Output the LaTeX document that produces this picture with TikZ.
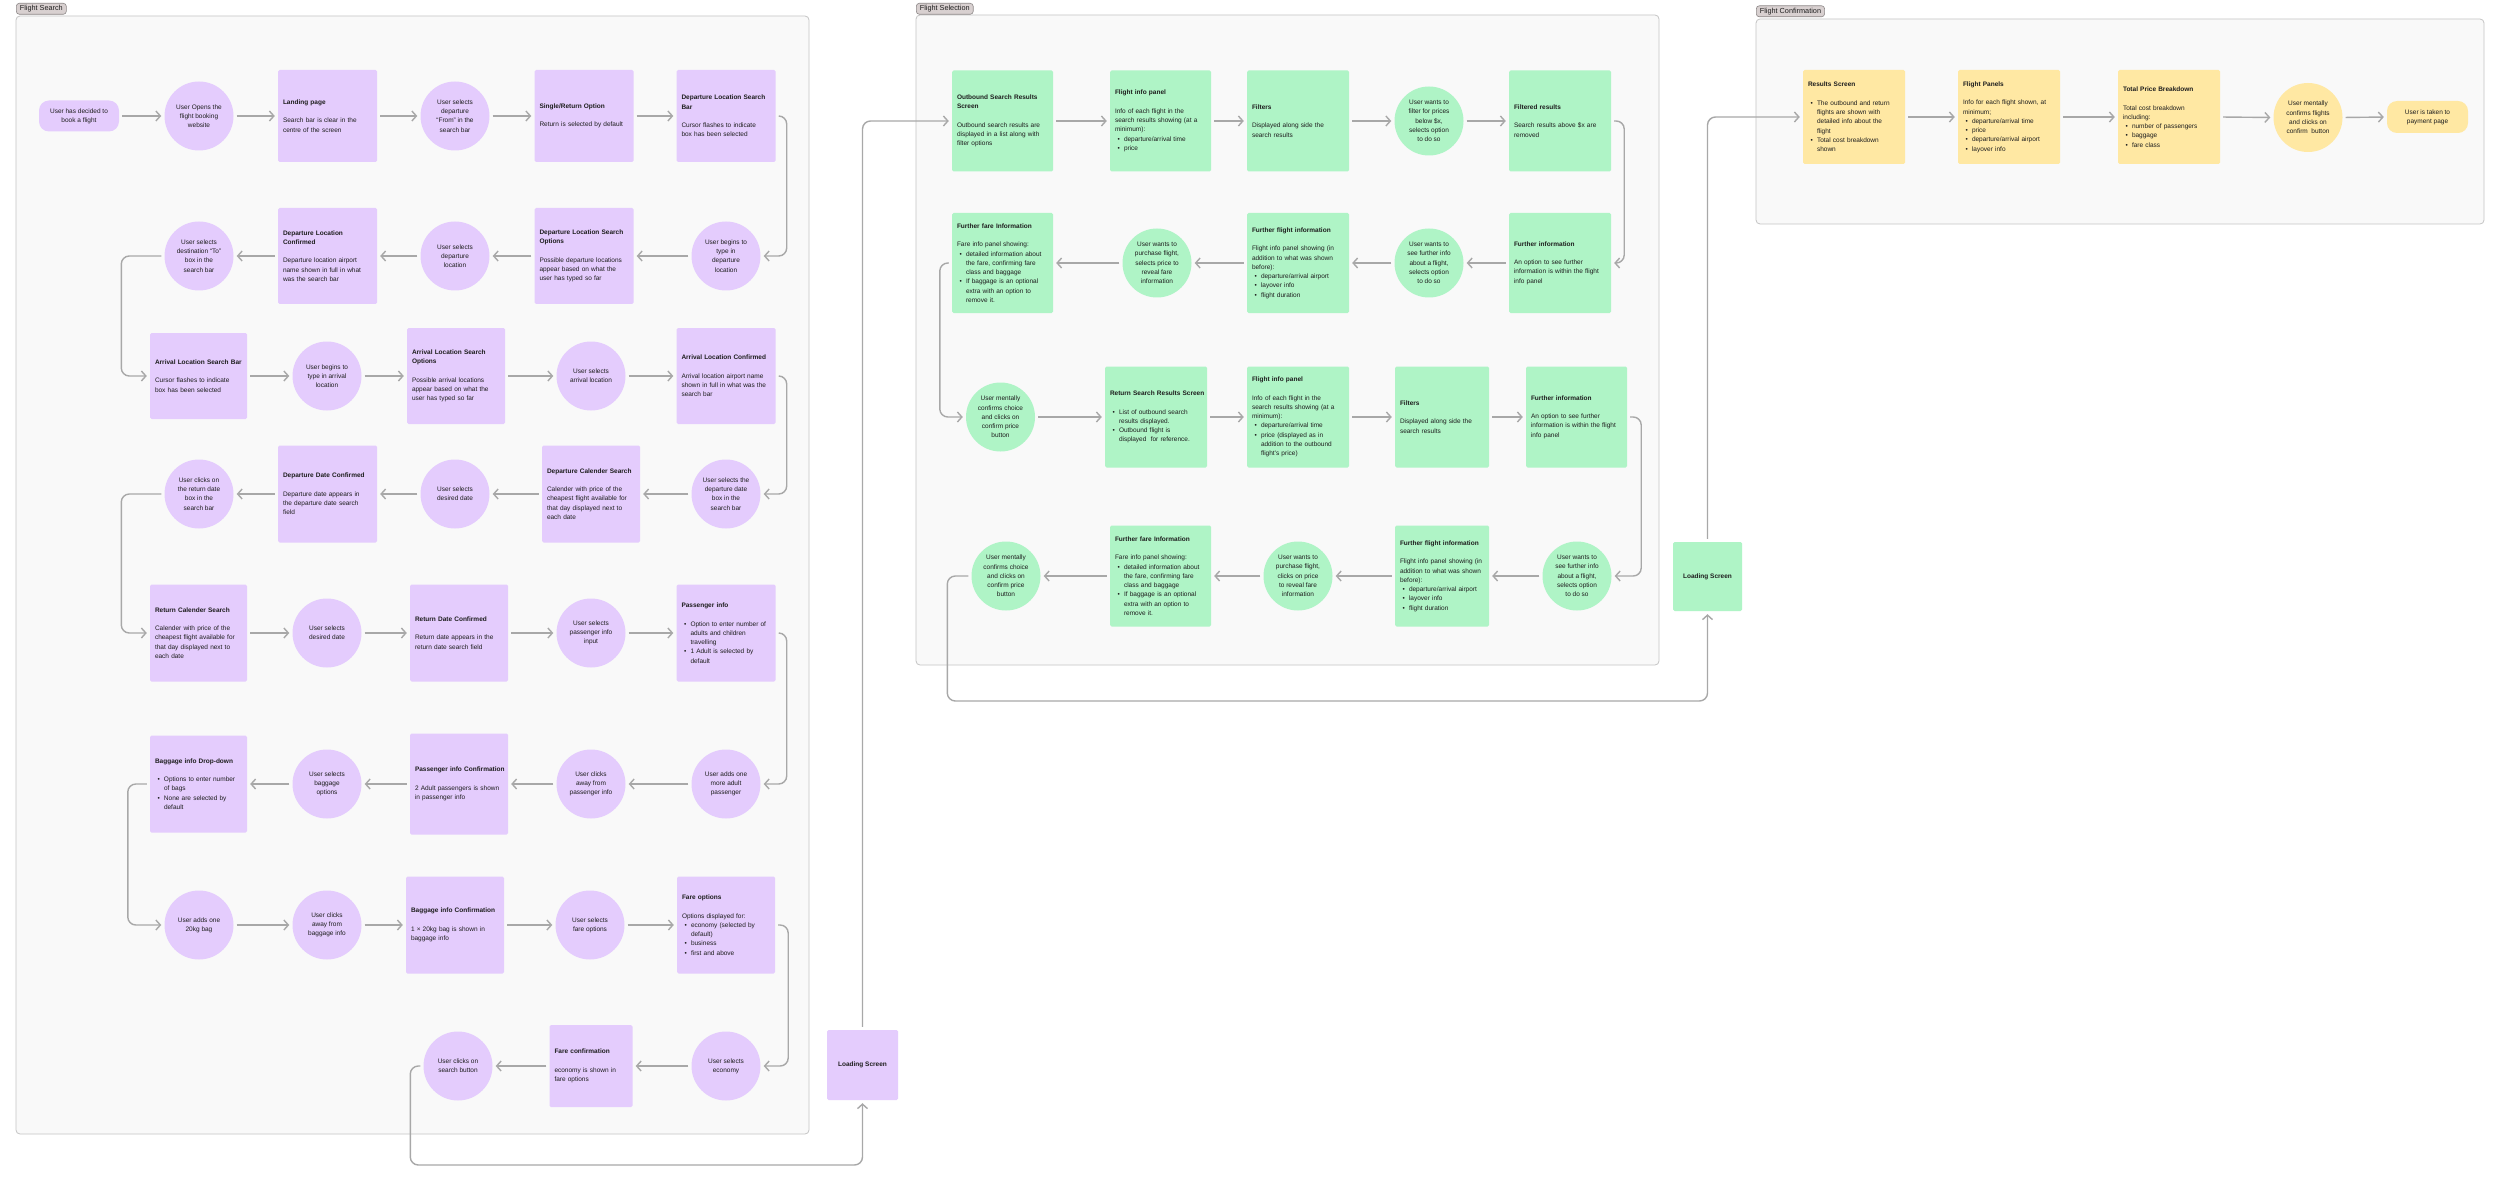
\documentclass[tikz,border=0pt]{standalone}
\usepackage{fontspec}
\setmainfont{Liberation Sans}
\usetikzlibrary{arrows.meta}
\definecolor{pu}{HTML}{E4CCFD}
\definecolor{gr}{HTML}{AFF4C6}
\definecolor{ye}{HTML}{FFE8A3}
\definecolor{fr}{HTML}{F9F9F9}
\definecolor{frb}{HTML}{C4C4C4}
\definecolor{ln}{HTML}{A8A8A8}
\definecolor{tx}{HTML}{1E1E1E}
\definecolor{tabf}{HTML}{D8D0D0}
\definecolor{tabb}{HTML}{8C8787}
\newcommand\myfs{\fontsize{6.5}{9.3}\selectfont}
\newcommand\bul[1]{\par\noindent\hangindent=9pt\hangafter=1\hspace*{2.5pt}\makebox[6.5pt][l]{\textbullet}#1\par}
\newcommand\ttl[1]{\mbox{\bfseries #1}}
\newcommand\gap{\par\vspace{9.3pt}\noindent}
\newcommand\nl{\newline}
\tikzset{
  bx/.style n args={3}{rectangle, rounded corners=1.5pt, fill=#1, text width=#2, minimum height=#3, inner xsep=5pt, inner ysep=0pt, align=left, font=\myfs, text=tx},
  ci/.style={circle, fill=#1, minimum size=69pt, inner sep=0pt, align=center, font=\myfs, text=tx},
  pl/.style={rectangle, rounded corners=10pt, fill=#1, minimum width=80pt, minimum height=31pt, inner sep=0pt, align=center, font=\myfs, text=tx},
  lb/.style={rectangle, rounded corners=1.5pt, fill=#1, minimum width=70pt, minimum height=70pt, inner sep=0pt, font=\myfs\bfseries, text=tx},
  cn/.style={draw=ln, line width=1.4pt, -{Straight Barb[length=4.5pt,width=10pt]}, shorten >=3pt, shorten <=3pt, rounded corners=8pt},
  frame/.style={fill=fr, draw=frb, line width=0.8pt, rounded corners=4pt},
  tabst/.style={rectangle, rounded corners=3pt, fill=tabf, draw=tabb, line width=0.6pt, minimum height=11pt, inner xsep=3.5pt, inner ysep=0pt, font=\fontsize{7.3}{8}\selectfont, text=tx, anchor=north west}
}
\begin{document}
\begin{tikzpicture}[x=1pt,y=-1pt]
\fill[white] (0,0) rectangle (2500,1182);
\useasboundingbox (0,0) rectangle (2500,1182);
% frames
\draw[frame] (16,16) rectangle (809,1134);
\draw[frame] (916,15) rectangle (1659,665);
\draw[frame] (1756,19) rectangle (2484,224);
\node[tabst] (t1) at (16,3) {Flight Search};
\node[tabst] (t2) at (916,3) {Flight Selection};
\node[tabst] (t3) at (1756,5.5) {Flight Confirmation};

% ---------- Flight Search ----------
\node[pl=pu] (s0) at (79,116) {User has decided to\\book a flight};
\node[ci=pu] (s1) at (199,116) {User Opens the\\flight booking\\website};
\node[bx={pu}{89pt}{92pt}] (s2) at (327.5,116) {\ttl{Landing page}\gap Search bar is clear in the\\centre of the screen};
\node[ci=pu] (s3) at (455,116) {User selects\\departure\\“From” in the\\search bar};
\node[bx={pu}{89pt}{92pt}] (s4) at (584,116) {\ttl{Single/Return Option}\gap Return is selected by default};
\node[bx={pu}{89pt}{92pt}] (s5) at (726,116) {\ttl{Departure Location Search}\\\ttl{Bar}\gap Cursor flashes to indicate\\box has been selected};

\node[ci=pu] (s6) at (726,256) {User begins to\\type in\\departure\\location};
\node[bx={pu}{89pt}{96pt}] (s7) at (584,256) {\ttl{Departure Location Search}\\\ttl{Options}\gap Possible departure locations\\appear based on what the\\user has typed so far};
\node[ci=pu] (s8) at (455,256) {User selects\\departure\\location};
\node[bx={pu}{89pt}{96pt}] (s9) at (327.5,256) {\ttl{Departure Location}\\\ttl{Confirmed}\gap Departure location airport\\name shown in full in what\\was the search bar};
\node[ci=pu] (s10) at (199,256) {User selects\\destination “To”\\box in the\\search bar};

\node[bx={pu}{87pt}{86pt}] (s11) at (198.5,376) {\ttl{Arrival Location Search Bar}\gap Cursor flashes to indicate\\box has been selected};
\node[ci=pu] (s12) at (327,376) {User begins to\\type in arrival\\location};
\node[bx={pu}{88pt}{96pt}] (s13) at (456,376) {\ttl{Arrival Location Search}\\\ttl{Options}\gap Possible arrival locations\\appear based on what the\\user has typed so far};
\node[ci=pu] (s14) at (591,376) {User selects\\arrival location};
\node[bx={pu}{89pt}{96pt}] (s15) at (726,376) {\ttl{Arrival Location Confirmed}\gap Arrival location airport name\\shown in full in what was the\\search bar};

\node[ci=pu] (s16) at (726,494) {User selects the\\departure date\\box in the\\search bar};
\node[bx={pu}{88pt}{97pt}] (s17) at (591,494) {\ttl{Departure Calender Search}\gap Calender with price of the\\cheapest flight available for\\that day displayed next to\\each date};
\node[ci=pu] (s18) at (455,494) {User selects\\desired date};
\node[bx={pu}{89pt}{97pt}] (s19) at (327.5,494) {\ttl{Departure Date Confirmed}\gap Departure date appears in\\the departure date search\\field};
\node[ci=pu] (s20) at (199,494) {User clicks on\\the return date\\box in the\\search bar};

\node[bx={pu}{87pt}{97pt}] (s21) at (198.5,633) {\ttl{Return Calender Search}\gap Calender with price of the\\cheapest flight available for\\that day displayed next to\\each date};
\node[ci=pu] (s22) at (327,633) {User selects\\desired date};
\node[bx={pu}{88pt}{97pt}] (s23) at (459,633) {\ttl{Return Date Confirmed}\gap Return date appears in the\\return date search field};
\node[ci=pu] (s24) at (591,633) {User selects\\passenger info\\input};
\node[bx={pu}{89pt}{97pt}] (s25) at (726,633) {\ttl{Passenger info}\gap\bul{Option to enter number of\nl adults and children\nl travelling}\bul{1 Adult is selected by\nl default}};

\node[ci=pu] (s26) at (726,784) {User adds one\\more adult\\passenger};
\node[ci=pu] (s27) at (591,784) {User clicks\\away from\\passenger info};
\node[bx={pu}{88pt}{101pt}] (s28) at (459,784) {\ttl{Passenger info Confirmation}\gap 2 Adult passengers is shown\\in passenger info};
\node[ci=pu] (s29) at (327,784) {User selects\\baggage\\options};
\node[bx={pu}{87pt}{97pt}] (s30) at (198.5,784) {\ttl{Baggage info Drop-down}\gap\bul{Options to enter number\nl of bags}\bul{None are selected by\nl default}};

\node[ci=pu] (s31) at (199,925) {User adds one\\20kg bag};
\node[ci=pu] (s32) at (327,925) {User clicks\\away from\\baggage info};
\node[bx={pu}{88pt}{97pt}] (s33) at (455,925) {\ttl{Baggage info Confirmation}\gap 1 × 20kg bag is shown in\\baggage info};
\node[ci=pu] (s34) at (590,925) {User selects\\fare options};
\node[bx={pu}{88pt}{97pt}] (s35) at (726,925) {\ttl{Fare options}\gap Options displayed for:\bul{economy (selected by\nl default)}\bul{business}\bul{first and above}};

\node[ci=pu] (s36) at (726,1066) {User selects\\economy};
\node[bx={pu}{73pt}{82pt}] (s37) at (591,1066) {\ttl{Fare confirmation}\gap economy is shown in\\fare options};
\node[ci=pu] (s38) at (458,1066) {User clicks on\\search button};
\node[lb=pu, minimum width=71pt] (ld1) at (862.5,1065) {Loading Screen};

% ---------- Flight Selection ----------
\node[bx={gr}{91pt}{101pt}] (g1) at (1002.5,121) {\ttl{Outbound Search Results}\\\ttl{Screen}\gap Outbound search results are\\displayed in a list along with\\filter options};
\node[bx={gr}{91pt}{101pt}] (g2) at (1160.5,121) {\ttl{Flight info panel}\gap Info of each flight in the\\search results showing (at a\\minimum):\bul{departure/arrival time}\bul{price}};
\node[bx={gr}{92pt}{101pt}] (g3) at (1298,121) {\ttl{Filters}\gap Displayed along side the\\search results};
\node[ci=gr] (g4) at (1429,121) {User wants to\\filter for prices\\below \$x,\\selects option\\to do so};
\node[bx={gr}{92pt}{101pt}] (g5) at (1560,121) {\ttl{Filtered results}\gap Search results above \$x are\\removed};

\node[bx={gr}{92pt}{100pt}] (g6) at (1560,263) {\ttl{Further information}\gap An option to see further\\information is within the flight\\info panel};
\node[ci=gr] (g7) at (1429,263) {User wants to\\see further info\\about a flight,\\selects option\\to do so};
\node[bx={gr}{92pt}{100pt}] (g8) at (1298,263) {\ttl{Further flight information}\gap Flight info panel showing (in\\addition to what was shown\\before):\bul{departure/arrival airport}\bul{layover info}\bul{flight duration}};
\node[ci=gr] (g9) at (1157,263) {User wants to\\purchase flight,\\selects price to\\reveal fare\\information};
\node[bx={gr}{91pt}{100pt}] (g10) at (1002.5,263) {\ttl{Further fare Information}\gap Fare info panel showing:\bul{detailed information about\nl the fare, confirming fare\nl class and baggage}\bul{If baggage is an optional\nl extra with an option to\nl remove it.}};

\node[ci=gr] (g11) at (1000.5,417) {User mentally\\confirms choice\\and clicks on\\confirm price\\button};
\node[bx={gr}{92pt}{101pt}] (g12) at (1156,417) {\ttl{Return Search Results Screen}\gap\bul{List of outbound search\nl results displayed.}\bul{Outbound flight is\nl displayed\ \ for reference.}};
\node[bx={gr}{92pt}{101pt}] (g13) at (1298,417) {\ttl{Flight info panel}\gap Info of each flight in the\\search results showing (at a\\minimum):\bul{departure/arrival time}\bul{price (displayed as in\nl addition to the outbound\nl flight’s price)}};
\node[bx={gr}{84pt}{101pt}] (g14) at (1442,417) {\ttl{Filters}\gap Displayed along side the\\search results};
\node[bx={gr}{91pt}{101pt}] (g15) at (1576.5,417) {\ttl{Further information}\gap An option to see further\\information is within the flight\\info panel};

\node[ci=gr] (g16) at (1577,576) {User wants to\\see further info\\about a flight,\\selects option\\to do so};
\node[bx={gr}{84pt}{101pt}] (g17) at (1442,576) {\ttl{Further flight information}\gap Flight info panel showing (in\\addition to what was shown\\before):\bul{departure/arrival airport}\bul{layover info}\bul{flight duration}};
\node[ci=gr] (g18) at (1298,576) {User wants to\\purchase flight,\\clicks on price\\to reveal fare\\information};
\node[bx={gr}{91pt}{101pt}] (g19) at (1160.5,576) {\ttl{Further fare Information}\gap Fare info panel showing:\bul{detailed information about\nl the fare, confirming fare\nl class and baggage}\bul{If baggage is an optional\nl extra with an option to\nl remove it.}};
\node[ci=gr] (g20) at (1006,576) {User mentally\\confirms choice\\and clicks on\\confirm price\\button};
\node[lb=gr, minimum width=69pt, minimum height=69pt] (ld2) at (1707.5,576.5) {Loading Screen};

% ---------- Flight Confirmation ----------
\node[bx={ye}{92pt}{94pt}] (y1) at (1854,117) {\ttl{Results Screen}\gap\bul{The outbound and return\nl flights are shown with\nl detailed info about the\nl flight}\bul{Total cost breakdown\nl shown}};
\node[bx={ye}{92pt}{94pt}] (y2) at (2009,117) {\ttl{Flight Panels}\gap Info for each flight shown, at\\minimum;\bul{departure/arrival time}\bul{price}\bul{departure/arrival airport}\bul{layover info}};
\node[bx={ye}{92pt}{94pt}] (y3) at (2169,117) {\ttl{Total Price Breakdown}\gap Total cost breakdown\\including:\bul{number of passengers}\bul{baggage}\bul{fare class}};
\node[ci=ye] (y4) at (2308,117.5) {User mentally\\confirms flights\\and clicks on\\confirm\ \ button};
\node[pl=ye, minimum width=81pt, minimum height=32pt] (y5) at (2427.5,117) {User is taken to\\payment page};

% ---------- connectors ----------
\foreach \a/\b in {s0/s1,s1/s2,s2/s3,s3/s4,s4/s5,s11/s12,s12/s13,s13/s14,s14/s15,s21/s22,s22/s23,s23/s24,s24/s25,s31/s32,s32/s33,s33/s34,s34/s35,g1/g2,g2/g3,g3/g4,g4/g5,g11/g12,g12/g13,g13/g14,g14/g15,y1/y2,y2/y3,y3/y4,y4/y5}
  \draw[cn] (\a.east) -- (\b.west);
\foreach \a/\b in {s6/s7,s7/s8,s8/s9,s9/s10,s16/s17,s17/s18,s18/s19,s19/s20,s26/s27,s27/s28,s28/s29,s29/s30,s36/s37,s37/s38,g6/g7,g7/g8,g8/g9,g9/g10,g16/g17,g17/g18,g18/g19,g19/g20}
  \draw[cn] (\a.west) -- (\b.east);
\draw[cn] (s5.east) -- ++(11,0) |- (s6.east);
\draw[cn] (s10.west) -- ++(-43,0) |- (s11.west);
\draw[cn] (s15.east) -- ++(11,0) |- (s16.east);
\draw[cn] (s20.west) -- ++(-43,0) |- (s21.west);
\draw[cn] (s25.east) -- ++(11,0) |- (s26.east);
\draw[cn] (s30.west) -- ++(-22,0) |- (s31.west);
\draw[cn] (s35.east) -- ++(13,0) |- (s36.east);
\draw[cn] (s38.west) -- ++(-13,0) -- ++(0,99) -| (ld1.south);
\draw[cn] (ld1.north) |- (g1.west);
\draw[cn] (g5.east) -- ++(13,0) |- (g6.east);
\draw[cn] (g10.west) -- ++(-12,0) |- (g11.west);
\draw[cn] (g15.east) -- ++(14,0) |- (g16.east);
\draw[cn] (g20.west) -- ++(-24,0) -- ++(0,125) -| (ld2.south);
\draw[cn] (ld2.north) |- (y1.west);
\end{tikzpicture}
\end{document}
